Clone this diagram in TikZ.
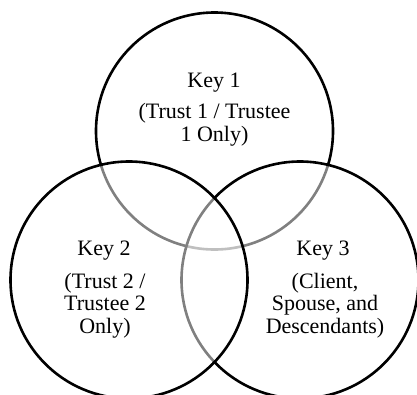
\documentclass[tikz,border=0pt]{standalone}
\usepackage{fontspec}
\setmainfont{Liberation Serif}
\begin{document}
\begin{tikzpicture}[x=1pt,y=-1pt,
  ring/.style={circle, draw=black, line width=2.6pt, fill=white, fill opacity=0.5,
    inner sep=0pt, minimum size=237pt},
  title/.style={font=\fontsize{22}{22.6}\selectfont, anchor=base, inner sep=0pt},
  body/.style={font=\fontsize{22}{22.6}\selectfont, align=center, anchor=base, inner sep=0pt}]
\useasboundingbox (0,0) rectangle (417,394);
% the three sets, later ones veil the outlines of earlier ones
\node[ring] (c1) at (214.5,131) {};
\node[ring] (c3) at (300,280) {};
\node[ring] (c2) at (129,280) {};
% labels (body nodes sit on the baseline of their last line)
\node[title] (k1) at (214,87) {Key 1};
\node[body] (t1) at (214.5,141.5) {(Trust 1 / Trustee\\1 Only)};
\node[title] (k2) at (104,255.5) {Key 2};
\node[body] (t2) at (105,333.5) {(Trust 2 /\\Trustee 2\\Only)};
\node[title] (k3) at (323,255.5) {Key 3};
\node[body] (t3) at (325,333.5) {(Client,\\Spouse, and\\Descendants)};
\end{tikzpicture}
\end{document}
